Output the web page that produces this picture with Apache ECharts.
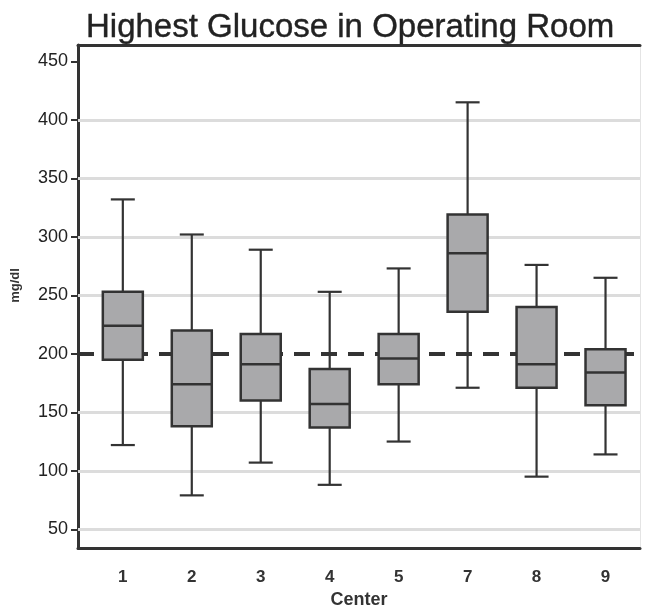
<!DOCTYPE html>
<html>
<head>
<meta charset="utf-8">
<script src="https://cdn.jsdelivr.net/npm/echarts@6/dist/echarts.min.js"></script>
<style>
html,body{margin:0;padding:0;background:#fff;}
#chart{width:646px;height:609px;}
</style>
</head>
<body>
<div id="chart"></div>
<script>
const categories = ['1', '2', '3', '4', '5', '7', '8', '9'];
const whiskerLow = [122, 79, 107, 88, 125, 171, 95, 114];
const q1 = [195, 138, 160, 137, 174, 236, 171, 156];
const median = [224, 174, 191, 157, 196, 286, 191, 184];
const q3 = [253, 220, 217, 187, 217, 319, 240, 204];
const whiskerHigh = [332, 302, 289, 253, 273, 415, 276, 265];
const yTicks = [50, 100, 150, 200, 250, 300, 350, 400, 450];
const gridValues = [50, 100, 150, 250, 300, 350, 400];
const referenceLine = 200;

const boxData = categories.map((c, i) => [i, whiskerLow[i], q1[i], median[i], q3[i], whiskerHigh[i]]);
const catIdx = categories.map((c, i) => i);

const chart = echarts.init(document.getElementById('chart'), null, {renderer: 'canvas'});
const dark = '#333333';
const FONT = "'Liberation Sans', Arial, sans-serif";

chart.setOption({
  backgroundColor: '#ffffff',
  animation: false,
  title: {
    text: 'Highest Glucose in Operating Room',
    left: 81,
    top: 6,
    textStyle: {fontFamily: FONT, fontSize: 33, fontWeight: 'normal', color: '#222222',
      textBorderColor: '#222222', textBorderWidth: 0.4}
  },
  grid: {left: 78, right: 6, top: 45, bottom: 61, containLabel: false, outerBoundsMode: 'none'},
  xAxis: [{
    type: 'value',
    min: -0.65,
    max: 7.5,
    position: 'bottom',
    name: 'Center',
    nameLocation: 'middle',
    nameGap: 43,
    nameTextStyle: {fontFamily: FONT, fontSize: 18, fontWeight: 'bold', color: dark},
    axisLine: {show: true, onZero: false, lineStyle: {color: dark, width: 3}},
    axisTick: {show: false},
    splitLine: {show: false},
    axisLabel: {
      customValues: catIdx,
      formatter: v => categories[Math.round(v)],
      margin: 21,
      fontFamily: FONT, fontSize: 17, fontWeight: 'bold', color: dark
    }
  }, {
    type: 'value',
    min: -0.65,
    max: 7.5,
    position: 'top',
    axisLine: {show: true, onZero: false, lineStyle: {color: dark, width: 3}},
    axisTick: {show: false},
    axisLabel: {show: false},
    splitLine: {show: false}
  }],
  yAxis: [{
    type: 'value',
    min: 34,
    max: 464,
    position: 'left',
    name: 'mg/dl',
    nameLocation: 'middle',
    nameRotate: 90,
    nameGap: 56,
    nameTextStyle: {fontFamily: FONT, fontSize: 13, fontWeight: 'bold', color: dark, padding: [0, 0, 0, 22]},
    axisLine: {show: true, onZero: false, lineStyle: {color: dark, width: 3}},
    axisTick: {show: true, customValues: yTicks, length: 7, lineStyle: {color: dark, width: 2}},
    axisLabel: {
      customValues: yTicks,
      margin: 10,
      fontFamily: FONT, fontSize: 18, color: '#222222'
    },
    splitLine: {show: false}
  }, {
    type: 'value',
    min: 34,
    max: 464,
    position: 'right',
    axisLine: {show: true, onZero: false, lineStyle: {color: '#e4e4e4', width: 1}},
    axisTick: {show: false},
    axisLabel: {show: false},
    splitLine: {show: false}
  }],
  series: [{
    type: 'custom',
    xAxisIndex: 0,
    yAxisIndex: 0,
    z: 3,
    data: boxData,
    renderItem: function (params, api) {
      const x = api.value(0);
      const lo = api.coord([x, api.value(1)]);
      const b1 = api.coord([x, api.value(2)]);
      const md = api.coord([x, api.value(3)]);
      const b3 = api.coord([x, api.value(4)]);
      const hi = api.coord([x, api.value(5)]);
      const bw = 40, cw = 24;
      const cx = lo[0];
      const ls = {stroke: dark, lineWidth: 2.2};
      return {
        type: 'group',
        children: [
          {type: 'line', shape: {x1: cx, y1: hi[1], x2: cx, y2: b3[1]}, style: ls},
          {type: 'line', shape: {x1: cx, y1: b1[1], x2: cx, y2: lo[1]}, style: ls},
          {type: 'line', shape: {x1: cx - cw / 2, y1: hi[1], x2: cx + cw / 2, y2: hi[1]}, style: ls},
          {type: 'line', shape: {x1: cx - cw / 2, y1: lo[1], x2: cx + cw / 2, y2: lo[1]}, style: ls},
          {type: 'rect', shape: {x: cx - bw / 2, y: b3[1], width: bw, height: b1[1] - b3[1]},
            style: {fill: '#a9a9ab', stroke: dark, lineWidth: 2.5}},
          {type: 'line', shape: {x1: cx - bw / 2, y1: md[1], x2: cx + bw / 2, y2: md[1]},
            style: {stroke: dark, lineWidth: 2.5}}
        ]
      };
    },
    markLine: {
      silent: true,
      z: 1,
      symbol: ['none', 'none'],
      label: {show: false},
      emphasis: {disabled: true},
      data: gridValues.map(v => ({yAxis: v, lineStyle: {color: '#dcdcdc', width: 3, type: 'solid'}}))
        .concat([{yAxis: referenceLine, lineStyle: {color: dark, width: 4, type: [16, 11]}}])
    }
  }]
});
</script>
</body>
</html>
